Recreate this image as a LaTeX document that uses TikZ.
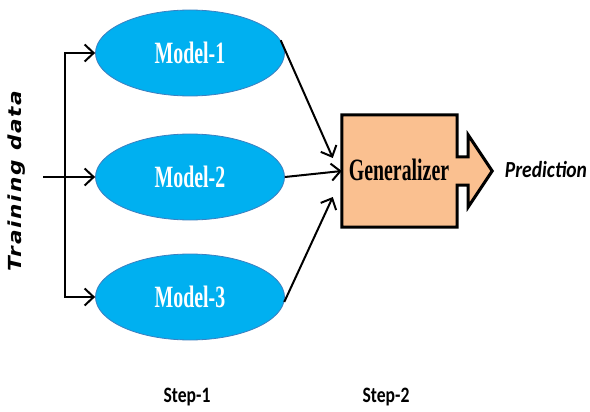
\documentclass[tikz,border=0pt]{standalone}
\usepackage{fontspec}
\usetikzlibrary{shapes.geometric,arrows.meta,calc}
\newfontfamily\modelfont[FakeStretch=0.64]{Liberation Serif}
\newfontfamily\stepfont[FakeStretch=0.8]{Carlito}
\newfontfamily\predfont[FakeStretch=0.85]{Carlito}
\newfontfamily\trainfont[FakeStretch=1.2,LetterSpace=10]{DejaVu Sans}
\definecolor{modelblue}{HTML}{00B0F0}
\definecolor{modeledge}{HTML}{3C7FC0}
\definecolor{genfill}{HTML}{FAC090}
\tikzset{
  model/.style={ellipse, fill=modelblue, draw=modeledge, line width=0.8pt,
    minimum width=189pt, minimum height=86pt, inner sep=0pt,
    text=white, font=\modelfont\bfseries\fontsize{31}{33}\selectfont},
  arr/.style={line width=2pt, -{Straight Barb[length=9pt,width=17pt,line width=2pt]}},
  steplabel/.style={font=\stepfont\bfseries\fontsize{22}{24}\selectfont},
}
\begin{document}
\begin{tikzpicture}[x=1pt,y=-1pt]
\useasboundingbox (0,0) rectangle (590,412);
\node[model] (m1) at (190,53) {Model-1};
\node[model] (m2) at (190,177) {Model-2};
\node[model] (m3) at (190,297) {Model-3};
\coordinate (in) at (43,177);
\coordinate (spl) at (65,177);
\draw[line width=2pt] (in) -- (spl);
\draw[arr] (spl) |- (m1.west);
\draw[arr] (spl) -- (m2.west);
\draw[arr] (spl) |- (m3.west);
\node[rotate=90, font=\trainfont\bfseries\itshape\fontsize{18}{20}\selectfont] (train) at (17,181) {Training data};
% generalizer
\node[minimum width=115pt, minimum height=112pt, inner sep=0pt] (gen) at (399.5,171) {};
\draw[line width=3pt, fill=genfill, line join=miter]
  (gen.north west) -- (gen.north east) -- ([yshift=14pt]gen.east)
  -- ++(11pt,0pt) -- ++(0pt,22pt) -- ++(24pt,-36pt) -- ++(-24pt,-36pt)
  -- ++(0pt,22pt) -- ([yshift=-14pt]gen.east) -- (gen.south east)
  -- (gen.south west) -- cycle;
\node[font=\modelfont\bfseries\fontsize{31}{33}\selectfont] (gentext) at (399,170) {Generalizer};
\draw[arr] (m1.8) -- ([xshift=-9pt,yshift=13pt]gen.west);
\draw[arr] (m2.east) -- (gen.west);
\draw[arr] (m3.-3) -- ([xshift=-9pt,yshift=-26pt]gen.west);
\node[font=\predfont\bfseries\itshape\fontsize{23}{25}\selectfont] (pred) at (546,170) {Prediction};
\node[steplabel] (s1) at (187,397) {Step-1};
\node[steplabel] (s2) at (386,397) {Step-2};
\end{tikzpicture}
\end{document}
